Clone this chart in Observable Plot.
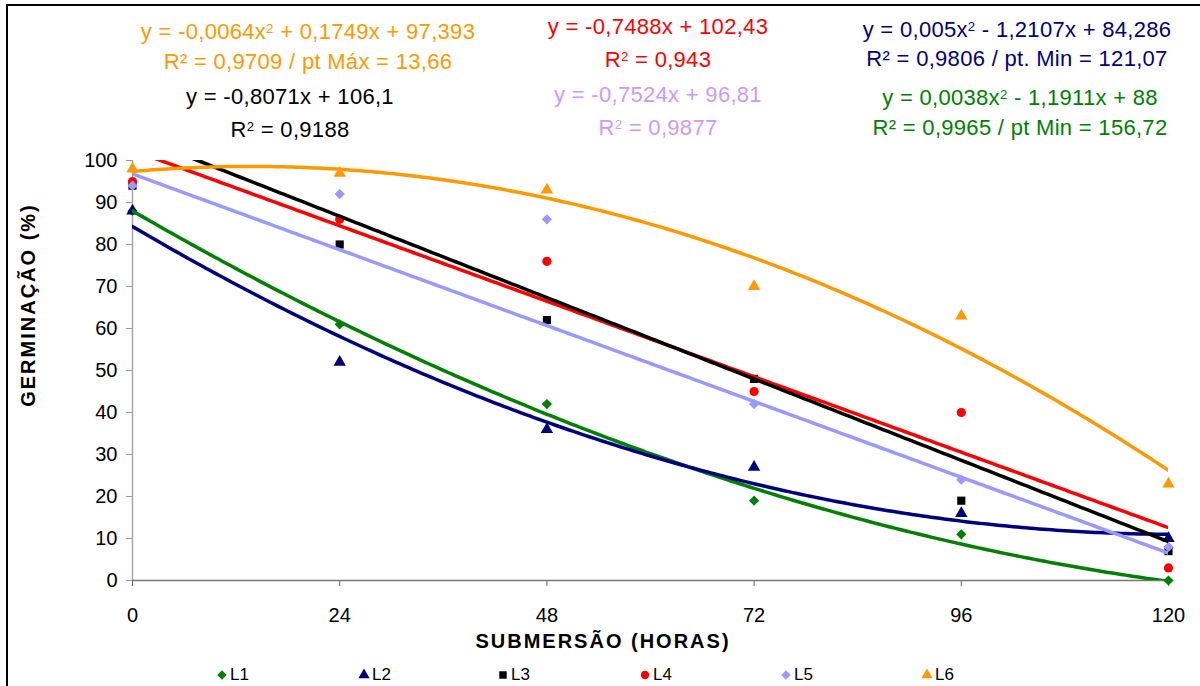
<!DOCTYPE html>
<html>
<head>
<meta charset="utf-8">
<script src="https://cdn.jsdelivr.net/npm/d3@7"></script>
<script src="https://cdn.jsdelivr.net/npm/@observablehq/plot@0.6"></script>
<style>
  html, body { margin: 0; padding: 0; background: #fff; }
  #wrap { position: relative; width: 1200px; height: 686px; overflow: hidden; font-family: "Liberation Sans", Arial, sans-serif; }
  #frame { position: absolute; left: 6px; top: 4px; width: 1300px; height: 800px; border-left: 2px solid #000; border-top: 2px solid #000; }
  #chart { position: absolute; left: 0; top: 0; }
  .eq { position: absolute; transform: translateX(-50%); white-space: nowrap; font-size: 22px; line-height: 22px; letter-spacing: 0.3px; }
  .eq sup { font-size: 0.6em; position: relative; top: -0.45em; vertical-align: baseline; line-height: 0; }
  .title { position: absolute; font-weight: bold; font-size: 20px; letter-spacing: 2px; white-space: nowrap; line-height: 20px; }
  #legend { position: absolute; left: 0; top: 664px; height: 22px; font-size: 17px; }
  .item { position: absolute; top: 0; display: flex; align-items: center; height: 22px; }
  .item svg { margin-right: 2px; }
</style>
</head>
<body>
<div id="wrap">
  <div id="frame"></div>
  <div id="chart"></div>
</div>
<script>
// ---- data ----
const series = ["L1", "L2", "L3", "L4", "L5", "L6"];
const colors = ["#008000", "#000080", "#000000", "#ff0000", "#9999ff", "#ff9900"];
const symbols = ["diamond2", "triangle", "square", "circle", "diamond2", "triangle"];
const hours = [0, 24, 48, 72, 96, 120];
const valuesL1 = [88, 61, 42, 19, 11, 0];
const valuesL2 = [88, 52, 36, 27, 16, 10];
const valuesL3 = [94, 80, 62, 48, 19, 7];
const valuesL4 = [95, 86, 76, 45, 40, 3];
const valuesL5 = [94, 92, 86, 42, 24, 8];
const valuesL6 = [98, 97, 93, 70, 63, 23];
// trend-line coefficients as printed on the chart (y = c0 + c1 x + c2 x^2)
const trendIntercept = [88, 84.286, 106.1, 102.43, 96.81, 97.393];
const trendLinear = [-1.1911, -1.2107, -0.8071, -0.7488, -0.7524, 0.1749];
const trendQuadratic = [0.0038, 0.005, 0, 0, 0, -0.0064];
const trendOrder = [0, 1, 3, 2, 4, 5];
const xTicks = [0, 24, 48, 72, 96, 120];
const yTicks = [0, 10, 20, 30, 40, 50, 60, 70, 80, 90, 100];
const xTitle = "SUBMERSÃO (HORAS)";
const yTitle = "GERMINAÇÃO (%)";
// equation labels: [series index, line1, line2]
const eqSeries = [5, 2, 3, 4, 1, 0];
const eqLine1 = [
  "y = -0,0064x<sup>2</sup> + 0,1749x + 97,393",
  "y = -0,8071x + 106,1",
  "y = -0,7488x + 102,43",
  "y = -0,7524x + 96,81",
  "y = 0,005x<sup>2</sup> - 1,2107x + 84,286",
  "y = 0,0038x<sup>2</sup> - 1,1911x + 88"
];
const eqLine2 = [
  "R² = 0,9709 / pt Máx = 13,66",
  "R<sup>2</sup> = 0,9188",
  "R<sup>2</sup> = 0,943",
  "R<sup>2</sup> = 0,9877",
  "R² = 0,9806 / pt. Min = 121,07",
  "R² = 0,9965 / pt Min = 156,72"
];
const eqTextColors = ["#ff9900", "#000000", "#ff0000", "#cc99ff", "#000080", "#008000"];

// ---- build tables ----
const allValues = [valuesL1, valuesL2, valuesL3, valuesL4, valuesL5, valuesL6];
const points = [];
series.forEach((s, i) => hours.forEach((h, j) => points.push({series: s, h, v: allValues[i][j]})));

const xs = d3.range(0, 120.001, 0.5);
const trendMarks = trendOrder.map(i => {
  const pts = xs.map(x => ({x, y: trendIntercept[i] + trendLinear[i] * x + trendQuadratic[i] * x * x}));
  return Plot.line(pts, {x: "x", y: "y", stroke: colors[i], strokeWidth: 3.5, clip: true, curve: "linear"});
});

const W = 1200, H = 686;
const chart = Plot.plot({
  width: W,
  height: H,
  marginLeft: 132,
  marginRight: 32,
  marginTop: 160,
  marginBottom: 106,
  style: {fontFamily: "'Liberation Sans', Arial, sans-serif", fontSize: "20px", color: "#000", background: "transparent"},
  x: {domain: [0, 120]},
  y: {domain: [0, 100]},
  color: {domain: series, range: colors},
  symbol: {domain: series, range: symbols},
  marks: [
    Plot.axisX({ticks: xTicks, tickSize: 6, tickPadding: 21, stroke: "#666", fill: "#000", fontSize: 20, label: null, tickFormat: d => d}),
    Plot.axisY({ticks: yTicks, tickSize: 6, tickPadding: 9, stroke: "#999", fill: "#000", fontSize: 20, label: null, tickFormat: d => d}),
    Plot.ruleX([0], {stroke: "#a6a6a6", strokeWidth: 1.5}),
    Plot.ruleY([0], {stroke: "#777", strokeWidth: 1.5}),
    Plot.dot(points, {x: "h", y: "v", fill: "series", symbol: "series", r: 4.6, stroke: "none"}),
    ...trendMarks
  ]
});
document.getElementById("chart").appendChild(chart);

const wrap = document.getElementById("wrap");
// equation annotations: centre x and centre y of each line
const eqX = [308, 290, 658, 658, 1017, 1020];
const eqY1 = [32, 97, 27, 95, 30, 98];
const eqY2 = [62, 130, 60, 128, 59, 128];
eqLine1.forEach((t, k) => {
  [[t, eqY1[k]], [eqLine2[k], eqY2[k]]].forEach(([txt, cy]) => {
    const d = document.createElement("div");
    d.className = "eq";
    d.style.left = eqX[k] + "px";
    d.style.top = (cy - 11) + "px";
    d.style.color = eqTextColors[k];
    d.innerHTML = txt;
    wrap.appendChild(d);
  });
});

// axis titles
const xt = document.createElement("div");
xt.className = "title";
xt.textContent = xTitle;
xt.style.left = "603px";
xt.style.top = "631px";
xt.style.transform = "translateX(-50%)";
wrap.appendChild(xt);

const yt = document.createElement("div");
yt.className = "title";
yt.textContent = yTitle;
yt.style.left = "28px";
yt.style.top = "305px";
yt.style.transform = "translate(-50%, -50%) rotate(-90deg)";
wrap.appendChild(yt);

// legend
const legend = document.createElement("div");
legend.id = "legend";
wrap.appendChild(legend);
const legendX = [222, 364, 503, 645, 786, 927];
const symMap = {diamond2: d3.symbolDiamond2, triangle: d3.symbolTriangle, square: d3.symbolSquare, circle: d3.symbolCircle};
series.forEach((s, i) => {
  const item = document.createElement("div");
  item.className = "item";
  item.style.left = (legendX[i] - 6) + "px";
  const r = 4.2;
  const path = d3.symbol(symMap[symbols[i]], Math.PI * r * r)();
  item.innerHTML = `<svg width="12" height="14" viewBox="-6 -7 12 14"><path d="${path}" fill="${colors[i]}"/></svg><span>${s}</span>`;
  legend.appendChild(item);
});
</script>
</body>
</html>
